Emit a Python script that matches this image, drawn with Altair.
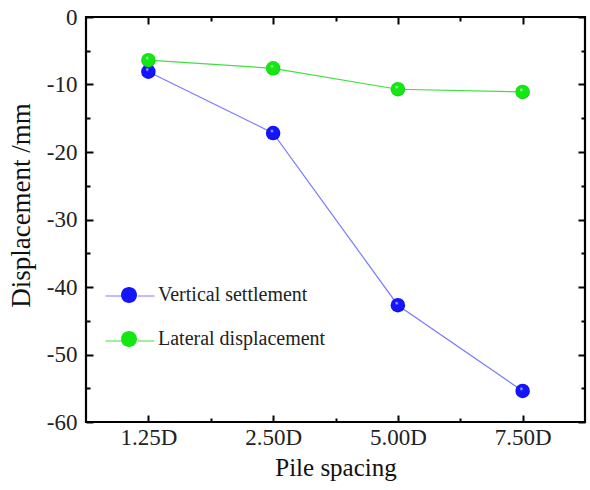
import altair as alt
import pandas as pd

categories = ["1.25D", "2.50D", "5.00D", "7.50D"]
vertical = [-8.1, -17.2, -42.7, -55.4]
lateral = [-6.4, -7.6, -10.7, -11.1]
series_names = ["Vertical settlement", "Lateral displacement"]
y_major = [0, -10, -20, -30, -40, -50, -60]
y_minor = [-5, -15, -25, -35, -45, -55]

rows = []
for i, c in enumerate(categories):
    rows.append({"idx": i + 1, "cat": c, "series": series_names[0], "value": vertical[i]})
    rows.append({"idx": i + 1, "cat": c, "series": series_names[1], "value": lateral[i]})
df = pd.DataFrame(rows)
# separate key for the line part of the legend (kept distinct so legends don't merge)
line_keys = [s + " " for s in series_names]
df["series_line"] = df["series"] + " "

FONT = "Liberation Serif"
x_scale = alt.Scale(domain=[0.5, len(categories) + 0.5], nice=False, zero=False)
y_scale = alt.Scale(domain=[-60, 0], nice=False, zero=False)
x_major = list(range(1, len(categories) + 1))
x_minor = [i + 0.5 for i in range(1, len(categories))]
lab_expr = "[" + ",".join("'%s'" % c for c in categories) + "][datum.value-1]"

line_colors = ["#7a7aff", "#3fe03f"]
ball_colors = ["#1414ff", "#14e814"]
dark_colors = ["#0000c8", "#00b000"]


def ax(orient, values, size, labels=False, title=None, **kw):
    return alt.Axis(orient=orient, values=values, tickSize=size, offset=-size,
                    domain=False, grid=False, labels=labels, title=title,
                    tickColor="black", tickWidth=2, **kw)


def axis_layer(xaxis, yaxis):
    return alt.Chart(df).mark_point(opacity=0).encode(
        x=alt.X("idx:Q", scale=x_scale, axis=xaxis),
        y=alt.Y("value:Q", scale=y_scale, axis=yaxis),
    )


lab = dict(labelFont=FONT, labelFontSize=23, labelColor="#222222",
           titleFont=FONT, titleColor="#111111", titleFontWeight="normal")

a1 = axis_layer(
    ax("bottom", x_major, 7, labels=True, title="Pile spacing",
       labelExpr=lab_expr, labelPadding=4, titlePadding=6, titleFontSize=25, **lab),
    ax("left", y_major, 7, labels=True, title="Displacement /mm",
       labelExpr="'' + datum.value", labelPadding=9, titlePadding=11,
       titleFontSize=27, titleY=188, **lab),
)
a2 = axis_layer(ax("bottom", x_minor, 4), ax("left", y_minor, 4))
a3 = axis_layer(ax("top", x_major, 7), ax("right", y_major, 7))
a4 = axis_layer(ax("top", x_minor, 4), ax("right", y_minor, 4))


def line(k):
    return alt.Chart(df).transform_filter(
        alt.datum.series == series_names[k]
    ).mark_line(strokeWidth=1.2, color=line_colors[k]).encode(
        x=alt.X("idx:Q", scale=x_scale, axis=None),
        y=alt.Y("value:Q", scale=y_scale, axis=None),
    )


def balls(k):
    grad = {
        "gradient": "radial",
        "x1": 0.4, "y1": 0.33, "r1": 0.0,
        "x2": 0.5, "y2": 0.5, "r2": 0.55,
        "stops": [
            {"offset": 0.0, "color": "#ffffff"},
            {"offset": 0.22, "color": ball_colors[k]},
            {"offset": 0.8, "color": ball_colors[k]},
            {"offset": 1.0, "color": dark_colors[k]},
        ],
    }
    return alt.Chart(df).transform_filter(
        alt.datum.series == series_names[k]
    ).mark_point(filled=True, size=210, opacity=1, fill=grad, strokeWidth=0).encode(
        x=alt.X("idx:Q", scale=x_scale, axis=None),
        y=alt.Y("value:Q", scale=y_scale, axis=None),
    )


ball_path = "M0.8,0A0.8,0.8 0 1,1 -0.8,0A0.8,0.8 0 1,1 0.8,0Z"
dash_path = "M-2.45,0H-0.8 M0.8,0H2.45"
leg_common = dict(title=None, orient="none", legendX=33, legendY=268,
                  symbolSize=400, symbolOpacity=1,
                  labelFont=FONT, labelFontSize=20,
                  labelOffset=19, rowPadding=24, labelLimit=400)

legend_lines = alt.Chart(df).mark_point(filled=False, size=0, shape=dash_path,
                                        strokeWidth=1.2).encode(
    x=alt.X("idx:Q", scale=x_scale, axis=None),
    y=alt.Y("value:Q", scale=y_scale, axis=None),
    stroke=alt.Stroke("series_line:N",
                      scale=alt.Scale(domain=line_keys, range=line_colors),
                      legend=alt.Legend(symbolType=dash_path, symbolStrokeWidth=1.2,
                                        labelExpr="''", **leg_common)),
)
legend_balls = alt.Chart(df).mark_point(filled=True, size=0, shape=ball_path).encode(
    x=alt.X("idx:Q", scale=x_scale, axis=None),
    y=alt.Y("value:Q", scale=y_scale, axis=None),
    color=alt.Color("series:N", scale=alt.Scale(domain=series_names, range=ball_colors),
                    legend=alt.Legend(symbolType=ball_path, symbolStrokeWidth=0,
                                      labelColor="#222222", **leg_common)),
)

chart = alt.layer(
    a1, a2, a3, a4, line(0), line(1), balls(0), balls(1), legend_lines, legend_balls
).resolve_axis(x="independent", y="independent").properties(
    width=499, height=405,
    padding={"left": 86, "top": 17, "right": 5, "bottom": 68},
    autosize=alt.AutoSizeParams(type="none"),
    background="white",
).configure_view(stroke="black", strokeWidth=2.2).configure_axis(
    labelFont=FONT, titleFont=FONT
).configure_legend(labelFont=FONT)

chart.save("out.html", embed_options={"renderer": "svg", "actions": False})
